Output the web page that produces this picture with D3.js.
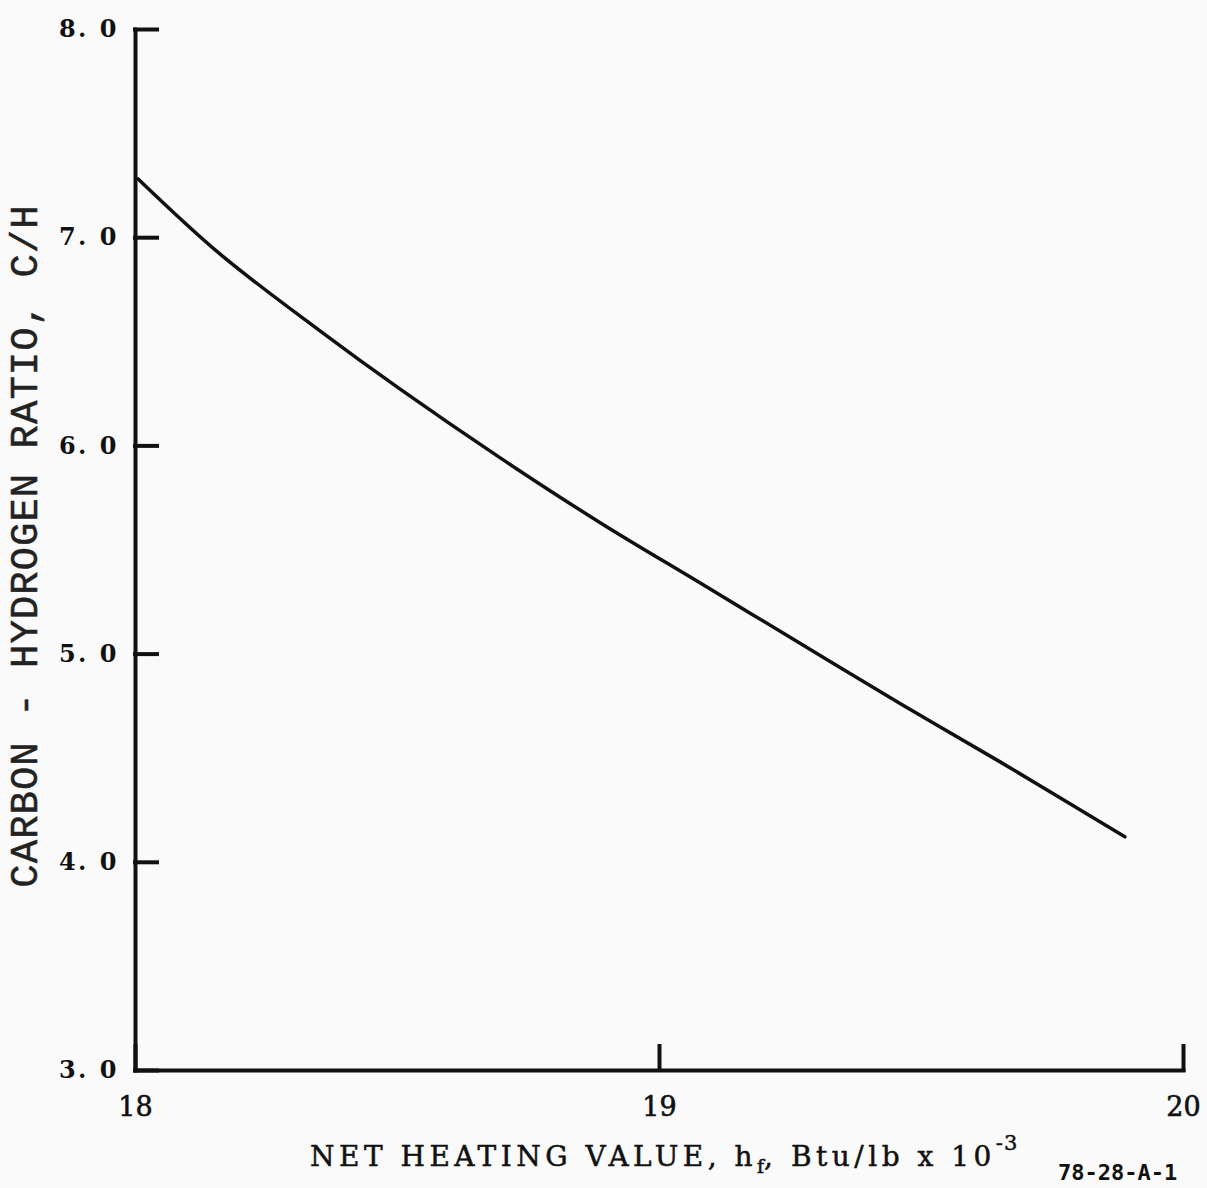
<!DOCTYPE html>
<html>
<head>
<meta charset="utf-8">
<script src="https://cdn.jsdelivr.net/npm/d3@7"></script>
<style>
  body { margin: 0; background: #fafafa; }
  svg { display: block; }
</style>
</head>
<body>
<svg id="graph"></svg>
<script>
// values
var heatingValue = [18.006, 18.162, 18.353, 18.506, 18.697, 18.887, 19.078, 19.269, 19.460, 19.651, 19.889];
var chRatio      = [7.28,   6.92,   6.55,   6.27,   5.94,   5.63,   5.34,   5.05,   4.76,   4.48,   4.12];

var xTicks = [18, 19, 20];
var yTicks = [3, 4, 5, 6, 7, 8];

var drawChart = function(svgSelector)
{
  var screen = { width: 1207, height: 1188 };
  var plot = { left: 135, right: 1183, top: 29, bottom: 1070 };

  var svg = d3.select(svgSelector)
              .attr("width", screen.width)
              .attr("height", screen.height);

  var xScale = d3.scaleLinear()
                 .domain([18, 20])
                 .range([plot.left, plot.right]);

  var yScale = d3.scaleLinear()
                 .domain([3, 8])
                 .range([plot.bottom, plot.top]);

  var points = heatingValue.map(function(d, i){ return [d, chRatio[i]]; });

  // y axis, ticks point inward
  var yAxis = d3.axisLeft(yScale)
                .tickValues(yTicks)
                .tickSizeInner(-22)
                .tickSizeOuter(0)
                .tickPadding(16)
                .tickFormat(function(d){ return d3.format(".1f")(d).replace(".", ". "); });

  var gy = svg.append("g")
              .attr("transform", "translate(" + plot.left + ",0)")
              .call(yAxis);

  gy.selectAll("text")
    .attr("font-family", "'DejaVu Serif', serif")
    .attr("font-weight", "bold")
    .attr("font-size", 24)
    .attr("letter-spacing", 2.5)
    .attr("fill", "#111");

  // x axis, ticks point up
  var xAxis = d3.axisBottom(xScale)
                .tickValues(xTicks)
                .tickSizeInner(-24)
                .tickSizeOuter(0)
                .tickPadding(27)
                .tickFormat(d3.format("d"));

  var gx = svg.append("g")
              .attr("transform", "translate(0," + plot.bottom + ")")
              .call(xAxis);

  gx.selectAll("text")
    .attr("font-family", "'DejaVu Serif', serif")
    .attr("font-size", 27)
    .attr("stroke", "#111")
    .attr("stroke-width", 0.6)
    .attr("fill", "#111");

  svg.selectAll(".domain, .tick line")
     .attr("stroke", "#111")
     .attr("stroke-width", 4)
     .attr("stroke-linecap", "square");

  // the curve
  var line = d3.line()
               .x(function(d){ return xScale(d[0]); })
               .y(function(d){ return yScale(d[1]); })
               .curve(d3.curveCatmullRom);

  svg.append("path")
     .datum(points)
     .attr("d", line)
     .attr("fill", "none")
     .attr("stroke", "#111")
     .attr("stroke-width", 3.5)
     .attr("stroke-linecap", "round");

  // axis titles
  svg.append("text")
     .attr("transform", "translate(37,546) rotate(-90)")
     .attr("text-anchor", "middle")
     .attr("font-family", "'Liberation Mono', monospace")
     .attr("font-size", 39)
     .attr("letter-spacing", 1)
     .attr("stroke", "#222")
     .attr("stroke-width", 0.5)
     .attr("fill", "#222")
     .text("CARBON - HYDROGEN RATIO, C/H");

  var xTitle = svg.append("text")
                  .attr("x", 310)
                  .attr("y", 1166)
                  .attr("font-family", "'DejaVu Serif', serif")
                  .attr("font-size", 28)
                  .attr("letter-spacing", 4.5)
                  .attr("stroke", "#111")
                  .attr("stroke-width", 0.5)
                  .attr("fill", "#111");
  xTitle.append("tspan").text("NET HEATING VALUE, h");
  xTitle.append("tspan").attr("dy", 7).attr("font-size", 19).attr("letter-spacing", 0).text("f");
  xTitle.append("tspan").attr("dy", -7).text(",  Btu/lb x 10");
  xTitle.append("tspan").attr("dy", -16).attr("font-size", 21).attr("letter-spacing", 1).text("-3");

  svg.append("text")
     .attr("x", 1058)
     .attr("y", 1180)
     .attr("font-family", "'DejaVu Sans Mono', monospace")
     .attr("font-weight", "bold")
     .attr("font-size", 22)
     .attr("fill", "#111")
     .text("78-28-A-1");
}

drawChart("#graph");
</script>
</body>
</html>
